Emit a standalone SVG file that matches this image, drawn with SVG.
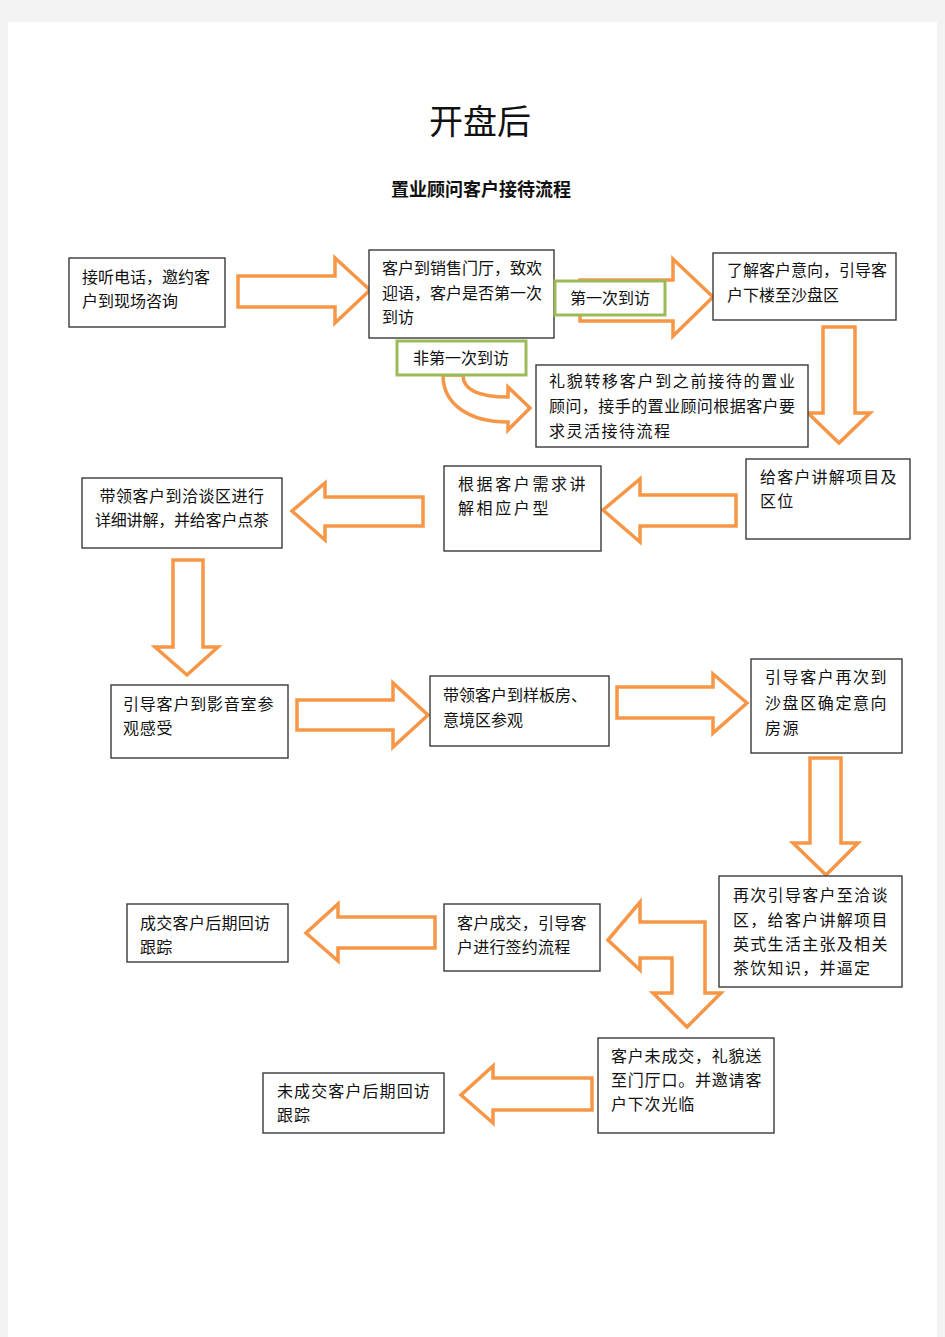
<svg xmlns="http://www.w3.org/2000/svg" width="945" height="1337" viewBox="0 0 945 1337">
<style>
.box{fill:#fff;stroke:#3a3a3a;stroke-width:1.4}
.gbox{fill:#fff;stroke:#9bbb59;stroke-width:3}
.arr{fill:#fff;stroke:#f79646;stroke-width:3.5;stroke-linejoin:miter}
text{font-family:"Noto Sans CJK SC","Liberation Sans",sans-serif;font-size:16px;fill:#111}
.title{font-size:34px;text-anchor:middle}
.sub{font-size:18px;font-weight:bold;text-anchor:middle}
.c{text-anchor:middle}
</style>
<rect x="0" y="0" width="945" height="1337" fill="#f3f3f3"/>
<rect x="8" y="22" width="929" height="1315" fill="#fff"/>
<text class="title" x="480" y="134">开盘后</text>
<text class="sub" x="481" y="196">置业顾问客户接待流程</text>

<g id="connectors">
  <path class="arr" d="M238 276 L335 276 L335 258 L370 290 L335 323 L335 307 L238 307 Z"/>
  <path class="arr" d="M580 280 L673 280 L673 259 L713 297 L673 336 L673 321 L580 321 Z"/>
  <path class="arr" d="M443 375 C443 405 470 422 508 422 L508 430 L530 408 L508 387 L508 397 C480 397 463 390 463 375 Z"/>
  <path class="arr" d="M823 327 L855 327 L855 413 L870 413 L839 443 L808 413 L823 413 Z"/>
  <path class="arr" d="M736 495 L640 495 L640 479 L603 510 L640 542 L640 526 L736 526 Z"/>
  <path class="arr" d="M423 497 L325 497 L325 483 L292 511 L325 540 L325 526 L423 526 Z"/>
  <path class="arr" d="M173 560 L203 560 L203 647 L218 647 L187 675 L155 647 L173 647 Z"/>
  <path class="arr" d="M297 700 L393 700 L393 683 L428 715 L393 747 L393 730 L297 730 Z"/>
  <path class="arr" d="M617 687 L713 687 L713 674 L747 703 L713 733 L713 718 L617 718 Z"/>
  <path class="arr" d="M810 758 L841 758 L841 843 L858 843 L826 875 L793 843 L810 843 Z"/>
  <path class="arr" d="M608 940 L640 902 L640 922 L705 922 L705 993 L721 993 L687 1027 L653 993 L672 993 L672 958 L640 958 L640 970 Z"/>
  <path class="arr" d="M435 917 L338 917 L338 904 L306 933 L338 961 L338 948 L435 948 Z"/>
  <path class="arr" d="M592 1078 L493 1078 L493 1066 L461 1095 L493 1123 L493 1110 L592 1110 Z"/>
</g>

<g id="n1"><rect class="box" x="69" y="258" width="156" height="69"/>
<text x="82" y="283">接听电话，邀约客</text><text x="82" y="307">户到现场咨询</text></g>

<g id="n2"><rect class="box" x="369" y="250" width="185" height="88"/>
<text x="382" y="274">客户到销售门厅，致欢</text><text x="382" y="299">迎语，客户是否第一次</text><text x="382" y="323">到访</text></g>

<g id="l1"><rect class="gbox" x="555" y="281" width="110" height="34"/>
<text class="c" x="610" y="304">第一次到访</text></g>

<g id="n3"><rect class="box" x="713" y="253" width="183" height="67"/>
<text x="727" y="276">了解客户意向，引导客</text><text x="727" y="301">户下楼至沙盘区</text></g>

<g id="l2"><rect class="gbox" x="397" y="341" width="129" height="34"/>
<text class="c" x="461" y="364">非第一次到访</text></g>

<g id="n4"><rect class="box" x="536" y="365" width="272" height="82"/>
<text x="549" y="387" textLength="246" lengthAdjust="spacing">礼貌转移客户到之前接待的置业</text><text x="549" y="412" textLength="246" lengthAdjust="spacing">顾问，接手的置业顾问根据客户要</text><text x="549" y="437" letter-spacing="1.5">求灵活接待流程</text></g>

<g id="n5"><rect class="box" x="746" y="459" width="164" height="80"/>
<g letter-spacing="1.2"><text x="760" y="483">给客户讲解项目及</text><text x="760" y="507">区位</text></g></g>

<g id="n6"><rect class="box" x="444" y="466" width="157" height="85"/>
<g letter-spacing="2.6"><text x="458" y="490">根据客户需求讲</text><text x="458" y="514">解相应户型</text></g></g>

<g id="n7"><rect class="box" x="82" y="478" width="200" height="70"/>
<text class="c" x="182" y="502" letter-spacing="0.5">带领客户到洽谈区进行</text><text class="c" x="182" y="526" textLength="174" lengthAdjust="spacing">详细讲解，并给客户点茶</text></g>

<g id="n8"><rect class="box" x="111" y="685" width="177" height="73"/>
<g letter-spacing="0.8"><text x="123" y="710">引导客户到影音室参</text><text x="123" y="734">观感受</text></g></g>

<g id="n9"><rect class="box" x="430" y="676" width="179" height="70"/>
<text x="443" y="701">带领客户到样板房、</text><text x="443" y="726">意境区参观</text></g>

<g id="n10"><rect class="box" x="751" y="659" width="151" height="94"/>
<g letter-spacing="1.6"><text x="765" y="683">引导客户再次到</text><text x="765" y="709">沙盘区确定意向</text><text x="765" y="734">房源</text></g></g>

<g id="n11"><rect class="box" x="719" y="876" width="183" height="111"/>
<g letter-spacing="1.3"><text x="733" y="901">再次引导客户至洽谈</text><text x="733" y="926">区，给客户讲解项目</text><text x="733" y="950">英式生活主张及相关</text><text x="733" y="974">茶饮知识，并逼定</text></g></g>

<g id="n12"><rect class="box" x="444" y="904" width="156" height="67"/>
<g letter-spacing="0.2"><text x="457" y="929">客户成交，引导客</text><text x="457" y="953">户进行签约流程</text></g></g>

<g id="n13"><rect class="box" x="127" y="904" width="161" height="58"/>
<g letter-spacing="0.3"><text x="140" y="929">成交客户后期回访</text><text x="140" y="953">跟踪</text></g></g>

<g id="n14"><rect class="box" x="598" y="1038" width="176" height="95"/>
<g letter-spacing="0.8"><text x="611" y="1062">客户未成交，礼貌送</text><text x="611" y="1086">至门厅口。并邀请客</text><text x="611" y="1110">户下次光临</text></g></g>

<g id="n15"><rect class="box" x="263" y="1073" width="181" height="60"/>
<g letter-spacing="1.1"><text x="277" y="1097">未成交客户后期回访</text><text x="277" y="1121">跟踪</text></g></g>
</svg>
